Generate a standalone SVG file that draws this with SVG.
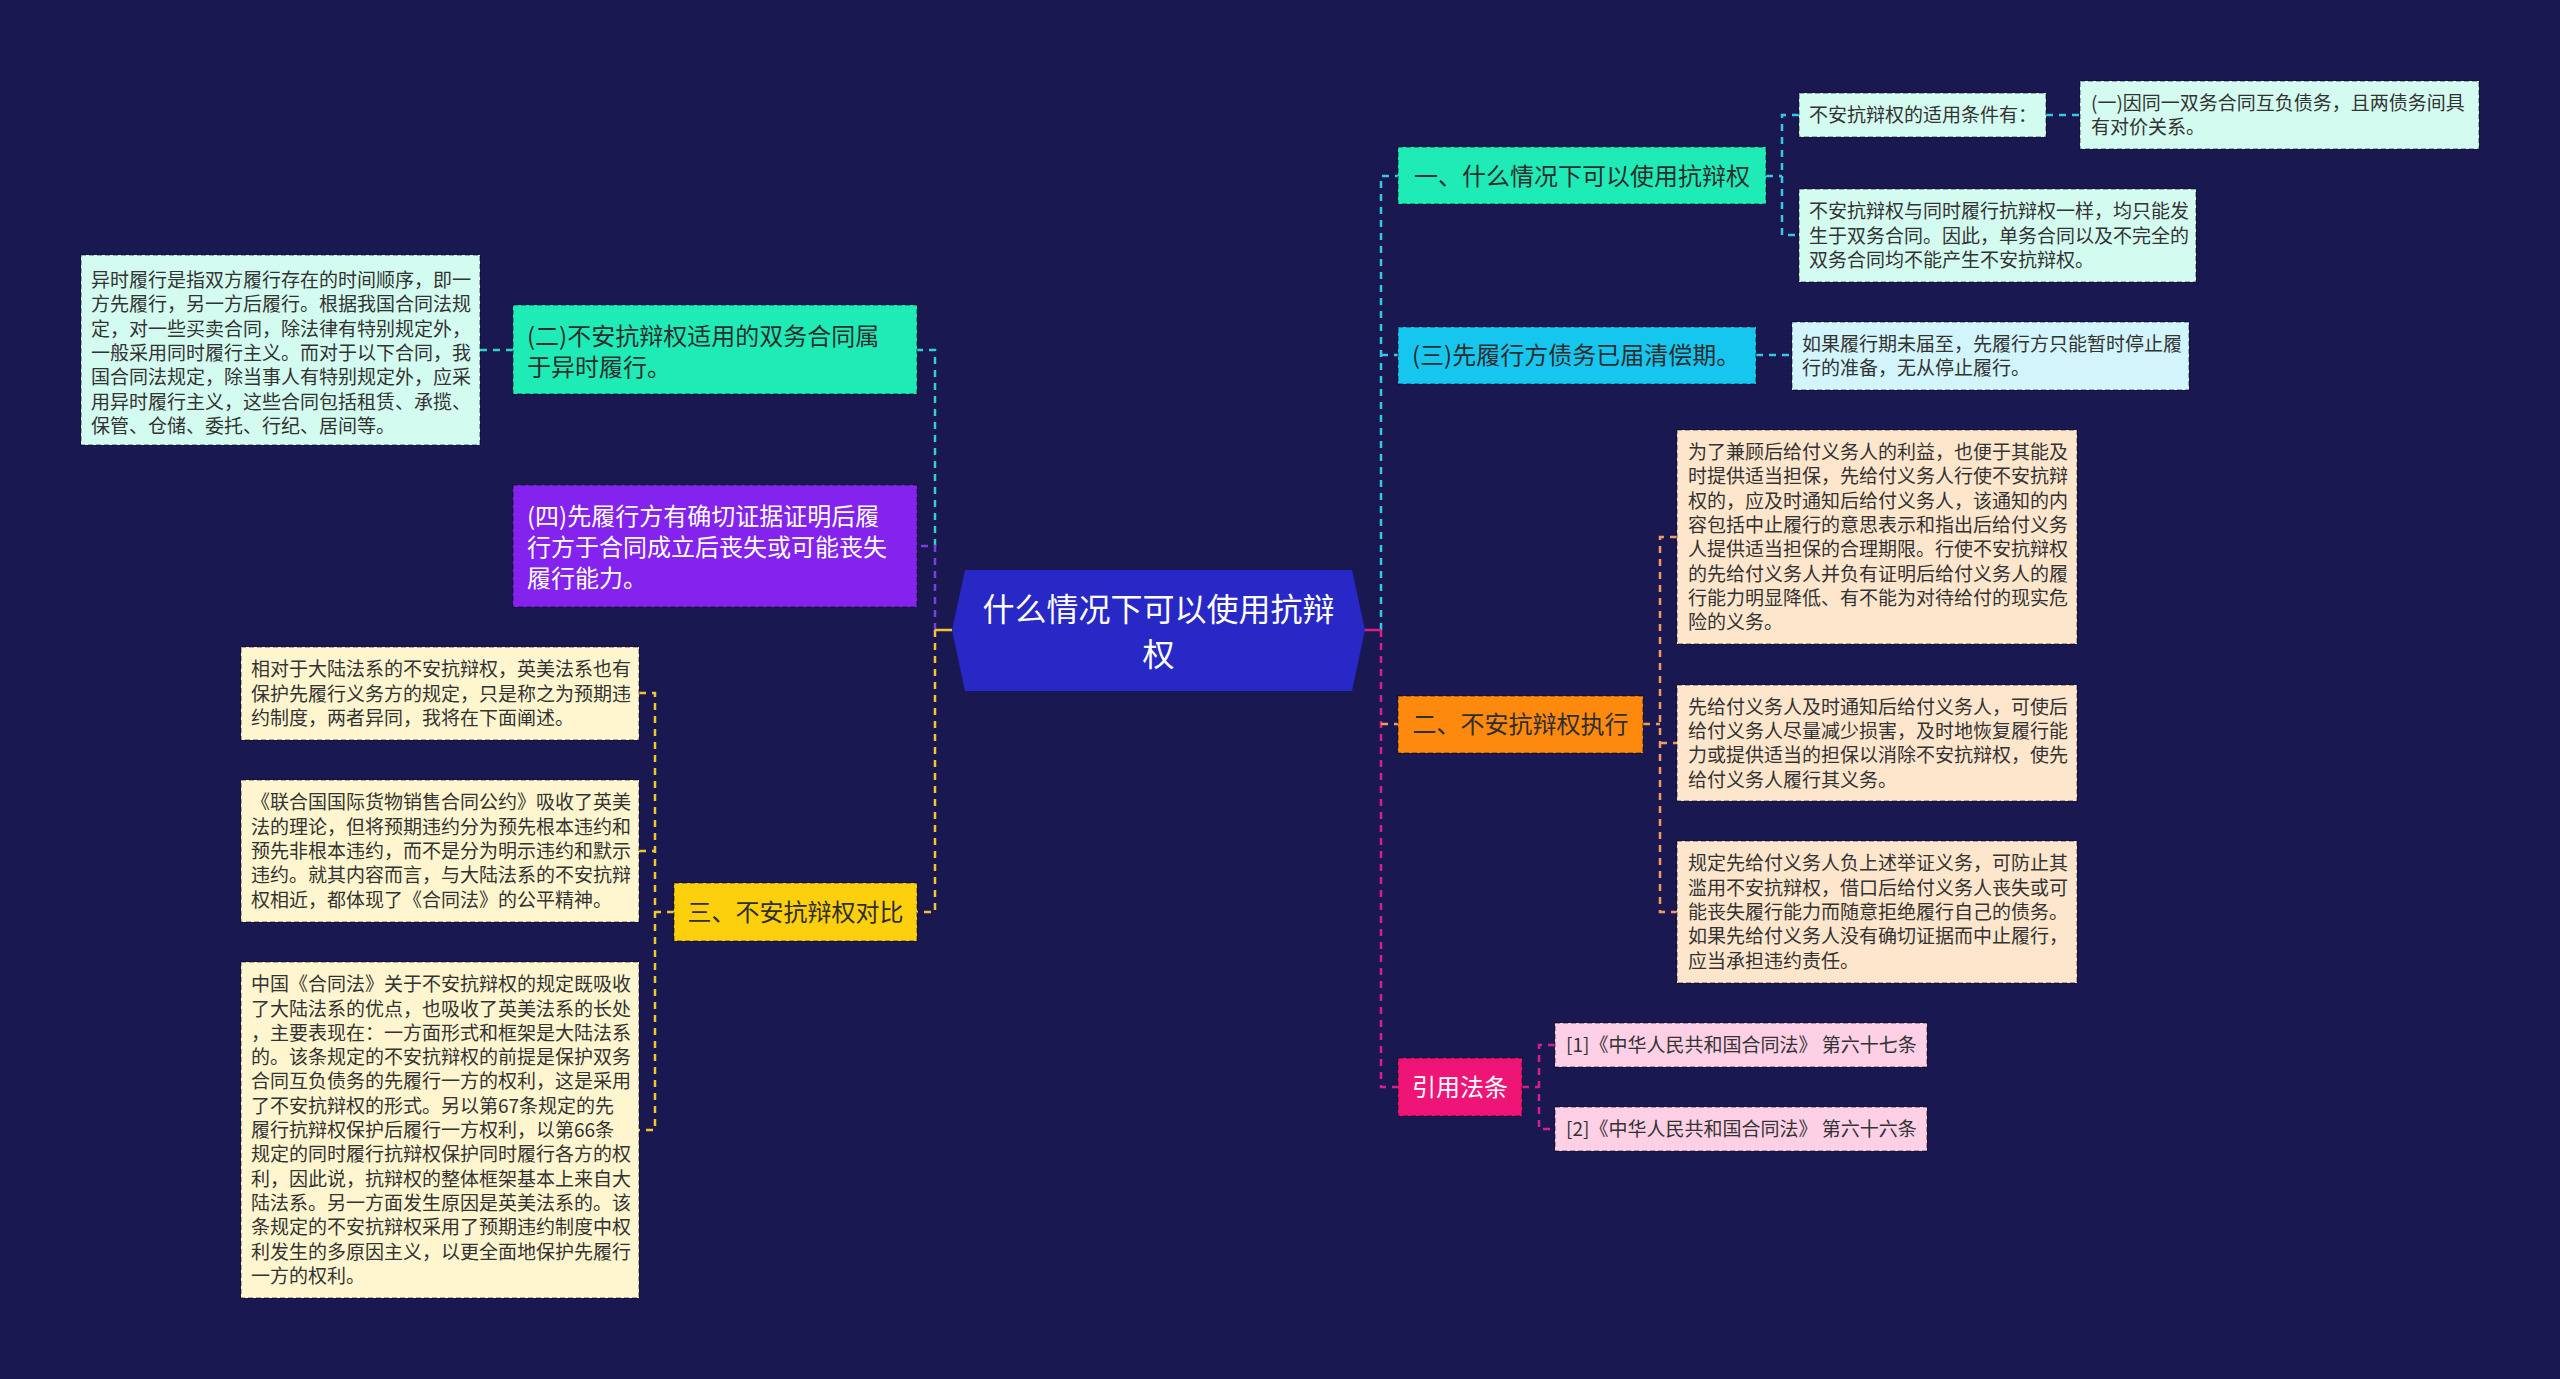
<svg xmlns="http://www.w3.org/2000/svg" width="2560" height="1379" viewBox="0 0 2560 1379">
<style>
text{font-family:"Noto Sans CJK SC","Noto Sans",sans-serif;}
.t19{font-size:19px;fill:#333333;}
.t24{font-size:24px;fill:#2e2e2e;}
.tw{fill:#ffffff;}
.mid{text-anchor:middle;}
.box{stroke:rgba(0,0,0,0.4);stroke-width:1.5;stroke-dasharray:5 3;}
.c{fill:none;stroke-width:2.5;stroke-dasharray:7 6;}
.teal{stroke:#2fd4c4;}
.cyan{stroke:#35c8e6;}
.purple{stroke:#7b3fe0;}
.yellow{stroke:#f2c52a;}
.orange{stroke:#f39a5e;}
.magenta{stroke:#d81f86;}
</style>
<rect width="2560" height="1379" fill="#1a1850"/>
<g id="connectors">
  <path class="c teal" d="M935,546 V350 H917 M513,350 H480"/>
  <path class="c purple" d="M935,630 V546 H917"/>
  <path d="M952,630 H935" fill="none" stroke="#f2c52a" stroke-width="2.5"/>
  <path class="c yellow" d="M935,630 V912 H917"/>
  <path class="c yellow" d="M674,912 H655 M639,693 H655 V1130 H639 M639,851 H655"/>
  <path class="c cyan" d="M1381,630 V176 H1398 M1381,355 H1398"/>
  <path class="c cyan" d="M1766,176 H1782 M1799,115 H1782 V235 H1799 M2046,115 H2080 M1756,355 H1792"/>
  <path d="M1363,630 H1381" fill="none" stroke="#d81f86" stroke-width="2.5"/>
  <path class="c magenta" d="M1381,630 V1087 H1398"/>
  <path class="c orange" d="M1381,724 H1398 M1643,724 H1660 M1677,537 H1660 V912 H1677 M1660,743 H1677"/>
  <path class="c magenta" d="M1522,1087 H1539 M1555,1045 H1539 V1129 H1555"/>
</g>
<g id="center">
  <polygon points="965,570 1352,570 1365,630 1352,691 965,691 952,630" fill="#2828c6"/>
  <text class="tw mid" font-size="32" x="1158.5" y="620.7">什么情况下可以使用抗辩</text>
  <text class="tw mid" font-size="32" x="1158.5" y="665.7">权</text>
</g>
<g id="n-yi">
  <rect class="box" x="1398" y="147" width="368" height="57" fill="#1eebb6"/>
  <text class="t24 mid" x="1582" y="184.8">一、什么情况下可以使用抗辩权</text>
</g>
<g id="d-yi-1">
  <rect class="box" x="1799" y="93" width="247" height="44" fill="#d4fbef"/>
  <text class="t19" x="1809" y="122">不安抗辩权的适用条件有：</text>
</g>
<g id="d-yi-1a">
  <rect class="box" x="2080" y="81" width="399" height="68" fill="#d4fbef"/>
  <text class="t19"><tspan x="2091" y="109.9">(一)因同一双务合同互负债务，且两债务间具</tspan><tspan x="2091" y="134.2">有对价关系。</tspan></text>
</g>
<g id="d-yi-2">
  <rect class="box" x="1799" y="189" width="397" height="93" fill="#d4fbef"/>
  <text class="t19"><tspan x="1809" y="218.2">不安抗辩权与同时履行抗辩权一样，均只能发</tspan><tspan x="1809" y="242.5">生于双务合同。因此，单务合同以及不完全的</tspan><tspan x="1809" y="266.8">双务合同均不能产生不安抗辩权。</tspan></text>
</g>
<g id="n-san3">
  <rect class="box" x="1398" y="327" width="358" height="57" fill="#16c6ef"/>
  <text class="t24" x="1412" y="364.3">(三)先履行方债务已届清偿期。</text>
</g>
<g id="d-san3">
  <rect class="box" x="1792" y="322" width="397" height="68" fill="#d2f4fb"/>
  <text class="t19"><tspan x="1802" y="350.9">如果履行期未届至，先履行方只能暂时停止履</tspan><tspan x="1802" y="375.2">行的准备，无从停止履行。</tspan></text>
</g>
<g id="n-er">
  <rect class="box" x="1398" y="696" width="245" height="57" fill="#fd8a0f"/>
  <text class="t24 mid" x="1520.5" y="733.3">二、不安抗辩权执行</text>
</g>
<g id="d-er-1">
  <rect class="box" x="1677" y="430" width="400" height="214" fill="#fde6cc"/>
  <text class="t19"><tspan x="1688" y="459">为了兼顾后给付义务人的利益，也便于其能及</tspan><tspan x="1688" y="483.3">时提供适当担保，先给付义务人行使不安抗辩</tspan><tspan x="1688" y="507.6">权的，应及时通知后给付义务人，该通知的内</tspan><tspan x="1688" y="531.9">容包括中止履行的意思表示和指出后给付义务</tspan><tspan x="1688" y="556.2">人提供适当担保的合理期限。行使不安抗辩权</tspan><tspan x="1688" y="580.5">的先给付义务人并负有证明后给付义务人的履</tspan><tspan x="1688" y="604.8">行能力明显降低、有不能为对待给付的现实危</tspan><tspan x="1688" y="629.1">险的义务。</tspan></text>
</g>
<g id="d-er-2">
  <rect class="box" x="1677" y="685" width="400" height="116" fill="#fde6cc"/>
  <text class="t19"><tspan x="1688" y="713.6">先给付义务人及时通知后给付义务人，可使后</tspan><tspan x="1688" y="737.9">给付义务人尽量减少损害，及时地恢复履行能</tspan><tspan x="1688" y="762.2">力或提供适当的担保以消除不安抗辩权，使先</tspan><tspan x="1688" y="786.5">给付义务人履行其义务。</tspan></text>
</g>
<g id="d-er-3">
  <rect class="box" x="1677" y="841" width="400" height="142" fill="#fde6cc"/>
  <text class="t19"><tspan x="1688" y="870.4">规定先给付义务人负上述举证义务，可防止其</tspan><tspan x="1688" y="894.7">滥用不安抗辩权，借口后给付义务人丧失或可</tspan><tspan x="1688" y="919">能丧失履行能力而随意拒绝履行自己的债务。</tspan><tspan x="1688" y="943.3">如果先给付义务人没有确切证据而中止履行，</tspan><tspan x="1688" y="967.6">应当承担违约责任。</tspan></text>
</g>
<g id="n-ref">
  <rect class="box" x="1398" y="1058" width="124" height="58" fill="#ee1577"/>
  <text class="t24 tw mid" x="1460" y="1095.8">引用法条</text>
</g>
<g id="d-ref-1">
  <rect class="box" x="1555" y="1023" width="372" height="44" fill="#fdd0e6"/>
  <text class="t19" x="1566" y="1052">[1]《中华人民共和国合同法》 第六十七条</text>
</g>
<g id="d-ref-2">
  <rect class="box" x="1555" y="1107" width="372" height="44" fill="#fdd0e6"/>
  <text class="t19" x="1566" y="1136">[2]《中华人民共和国合同法》 第六十六条</text>
</g>
<g id="n-er2">
  <rect class="box" x="513" y="305" width="404" height="89" fill="#1eebb6"/>
  <text class="t24"><tspan x="527" y="345.3">(二)不安抗辩权适用的双务合同属</tspan><tspan x="527" y="376.3">于异时履行。</tspan></text>
</g>
<g id="d-er2">
  <rect class="box" x="81" y="255" width="399" height="190" fill="#d4fbef"/>
  <text class="t19"><tspan x="91" y="287">异时履行是指双方履行存在的时间顺序，即一</tspan><tspan x="91" y="311.3">方先履行，另一方后履行。根据我国合同法规</tspan><tspan x="91" y="335.6">定，对一些买卖合同，除法律有特别规定外，</tspan><tspan x="91" y="359.9">一般采用同时履行主义。而对于以下合同，我</tspan><tspan x="91" y="384.2">国合同法规定，除当事人有特别规定外，应采</tspan><tspan x="91" y="408.5">用异时履行主义，这些合同包括租赁、承揽、</tspan><tspan x="91" y="432.8">保管、仓储、委托、行纪、居间等。</tspan></text>
</g>
<g id="n-si">
  <rect class="box" x="513" y="485" width="404" height="122" fill="#8422ee"/>
  <text class="t24 tw"><tspan x="527" y="524.8">(四)先履行方有确切证据证明后履</tspan><tspan x="527" y="555.8">行方于合同成立后丧失或可能丧失</tspan><tspan x="527" y="586.8">履行能力。</tspan></text>
</g>
<g id="n-san">
  <rect class="box" x="674" y="883" width="243" height="58" fill="#fdd00d"/>
  <text class="t24 mid" x="795.5" y="920.8">三、不安抗辩权对比</text>
</g>
<g id="d-san-1">
  <rect class="box" x="241" y="647" width="398" height="93" fill="#fff6cf"/>
  <text class="t19"><tspan x="251" y="676.2">相对于大陆法系的不安抗辩权，英美法系也有</tspan><tspan x="251" y="700.5">保护先履行义务方的规定，只是称之为预期违</tspan><tspan x="251" y="724.8">约制度，两者异同，我将在下面阐述。</tspan></text>
</g>
<g id="d-san-2">
  <rect class="box" x="241" y="780" width="398" height="142" fill="#fff6cf"/>
  <text class="t19"><tspan x="251" y="809.4">《联合国国际货物销售合同公约》吸收了英美</tspan><tspan x="251" y="833.7">法的理论，但将预期违约分为预先根本违约和</tspan><tspan x="251" y="858">预先非根本违约，而不是分为明示违约和默示</tspan><tspan x="251" y="882.3">违约。就其内容而言，与大陆法系的不安抗辩</tspan><tspan x="251" y="906.6">权相近，都体现了《合同法》的公平精神。</tspan></text>
</g>
<g id="d-san-3">
  <rect class="box" x="241" y="962" width="398" height="336" fill="#fff6cf"/>
  <text class="t19"><tspan x="251" y="991.2">中国《合同法》关于不安抗辩权的规定既吸收</tspan><tspan x="251" y="1015.5">了大陆法系的优点，也吸收了英美法系的长处</tspan><tspan x="251" y="1039.8">，主要表现在：一方面形式和框架是大陆法系</tspan><tspan x="251" y="1064.1">的。该条规定的不安抗辩权的前提是保护双务</tspan><tspan x="251" y="1088.4">合同互负债务的先履行一方的权利，这是采用</tspan><tspan x="251" y="1112.7">了不安抗辩权的形式。另以第67条规定的先</tspan><tspan x="251" y="1137">履行抗辩权保护后履行一方权利，以第66条</tspan><tspan x="251" y="1161.3">规定的同时履行抗辩权保护同时履行各方的权</tspan><tspan x="251" y="1185.6">利，因此说，抗辩权的整体框架基本上来自大</tspan><tspan x="251" y="1209.9">陆法系。另一方面发生原因是英美法系的。该</tspan><tspan x="251" y="1234.2">条规定的不安抗辩权采用了预期违约制度中权</tspan><tspan x="251" y="1258.5">利发生的多原因主义，以更全面地保护先履行</tspan><tspan x="251" y="1282.8">一方的权利。</tspan></text>
</g>
</svg>
